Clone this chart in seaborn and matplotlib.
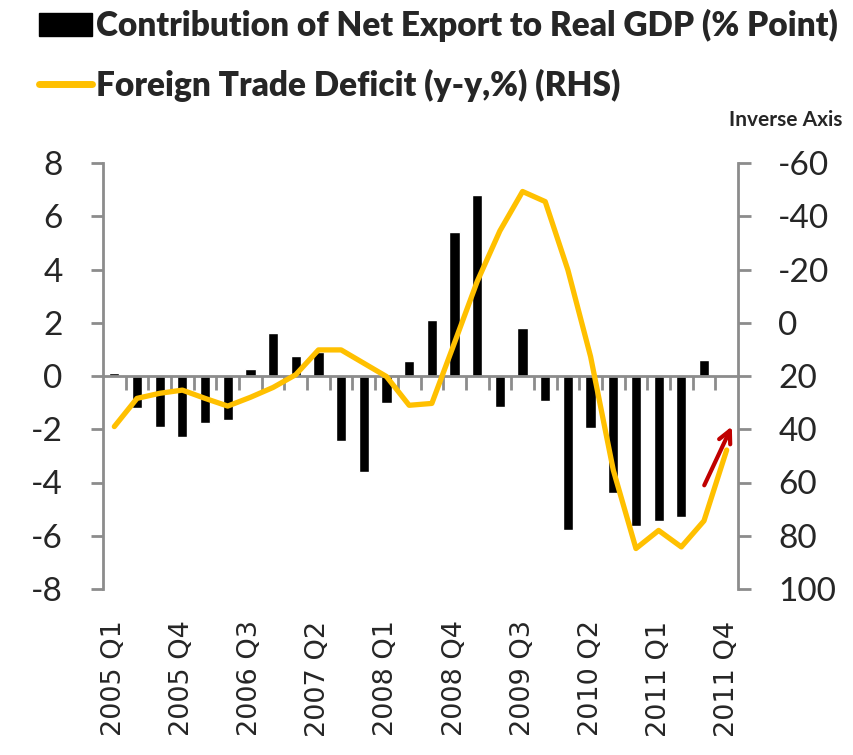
import numpy as np
import matplotlib
matplotlib.use('Agg')
import matplotlib.pyplot as plt
import seaborn as sns

# Quarterly data, 2005 Q1 .. 2011 Q4
years = [2005, 2006, 2007, 2008, 2009, 2010, 2011]
quarters = [f"{y} Q{q}" for y in years for q in range(1, 5)]

# Contribution of net export to real GDP (% point), left axis
net_export = [0.1, -1.2, -1.9, -2.3, -1.75, -1.65, 0.25, 1.6, 0.75, 0.9,
              -2.45, -3.6, -1.0, 0.55, 2.1, 5.4, 6.8, -1.15, 1.8, -0.95,
              -5.8, -1.95, -4.4, -5.65, -5.45, -5.3, 0.6, 0.0]

# Foreign trade deficit (y-y, %), right axis (inverted)
trade_deficit = [39, 28.4, 26.5, 25.3, 28.4, 31.3, 28, 24.3, 19.5, 10.2,
                 10.2, 15.2, 20.2, 31, 30.3, 7.5, -15.5, -34.5, -49.3, -45.5,
                 -19.8, 12.7, 55.3, 84.8, 78, 84.2, 74.4, 47.8]

left_ticks = list(range(-8, 9, 2))
right_ticks = list(range(-60, 101, 20))
label_every = 3

bar_label = "Contribution of Net Export to Real GDP (% Point)"
line_label = "Foreign Trade Deficit (y-y,%) (RHS)"

GOLD = "#FFC000"
GREY = "#8C8C8C"
DARKRED = "#C00000"

sns.set_theme(style="white")
plt.rcParams['font.family'] = ['Lato', 'DejaVu Sans']

fig = plt.figure(figsize=(8.54, 7.55), dpi=100)
ax = fig.add_axes([103 / 854, 1 - 589 / 755, 635 / 854, 426 / 755])

pos = np.arange(len(quarters))
sns.barplot(x=pos, y=net_export, color="black", width=0.45,
            saturation=1, native_scale=True, ax=ax)
ax.set_xlim(-0.5, len(quarters) - 0.5)
ax.set_ylim(-8, 8)

ax2 = ax.twinx()
sns.lineplot(x=pos, y=trade_deficit, color=GOLD, linewidth=3.8, ax=ax2)
ax2.set_ylim(100, -60)

# spines
for a in (ax, ax2):
    a.spines['top'].set_visible(False)
    for s in a.spines.values():
        s.set_color(GREY)
        s.set_linewidth(2)
ax.spines['right'].set_visible(False)
ax2.spines['left'].set_visible(False)
ax2.spines['bottom'].set_visible(False)
ax.spines['bottom'].set_position(('data', 0))

ax.set_yticks(left_ticks)
ax.set_yticklabels([str(t) for t in left_ticks])
ax2.set_yticks(right_ticks)
ax2.set_yticklabels([str(t) for t in right_ticks])
ax.tick_params(axis='y', direction='out', length=9, width=2, color=GREY,
               labelsize=24, pad=20, left=True)
ax2.tick_params(axis='y', direction='out', length=9, width=2, color=GREY,
                labelsize=24, pad=20, right=True)

ax.set_xticks(pos[::label_every])
ax.set_xticklabels(quarters[::label_every], rotation=90,
                   fontfamily='DejaVu Sans', fontsize=19.5)
ax.set_xticks(pos[:-1] + 0.5, minor=True)
ax.tick_params(axis='x', which='major', length=0, pad=176, bottom=True)
ax.tick_params(axis='x', which='minor', direction='out', length=10,
               width=2, color=GREY, bottom=True)
ax.set_xlabel('')
ax.set_ylabel('')
ax2.set_ylabel('')
ax.grid(False)
ax2.grid(False)

# arrow pointing at the latest improvement
ax.annotate('', xy=(27.28, -1.8), xytext=(25.96, -4.2),
            arrowprops=dict(arrowstyle='->', color=DARKRED, lw=3,
                            mutation_scale=22), annotation_clip=False)

# legend
handles = [plt.Rectangle((0, 0), 1, 1, color='black'),
           plt.Line2D([0], [0], color=GOLD, linewidth=5)]
fig.legend(handles, [bar_label, line_label], loc='upper left',
           bbox_to_anchor=(0.026, 1.01), frameon=False,
           prop=dict(family='Lato', weight='heavy', size=24),
           handlelength=1.6, handleheight=0.7, handletextpad=0.12,
           labelspacing=0.8, borderaxespad=0.1)

fig.text(786 / 854, 1 - 120 / 755, "Inverse Axis", ha='center', va='center',
         fontsize=15, fontweight='bold', family='Lato')

fig.savefig('out.png', dpi=100)
